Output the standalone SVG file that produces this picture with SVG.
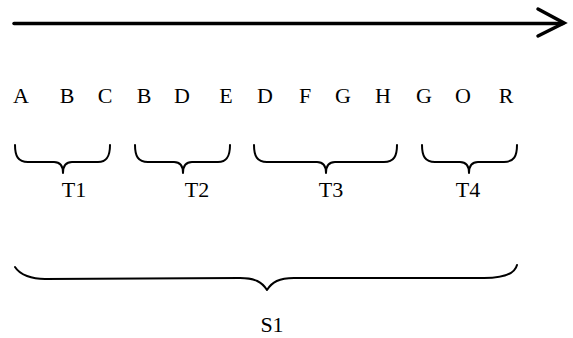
<svg xmlns="http://www.w3.org/2000/svg" width="573" height="338" viewBox="0 0 573 338">
<style>
text{font-family:"Liberation Serif","Times New Roman",serif;font-size:22px;fill:#000;text-anchor:middle}
.br{fill:none;stroke:#000;stroke-width:2;stroke-linecap:round;stroke-linejoin:round}
.ar{fill:none;stroke:#000;stroke-width:3.5;stroke-linecap:round;stroke-linejoin:miter}
</style>
<rect width="573" height="338" fill="#fff"/>
<g id="connectors">
<path class="ar" d="M14,23.5 L563,23.5"/>
<path class="ar" d="M538,9 L564,23 L538,36"/>
</g>
<g id="sequence">
<text x="21" y="103">A</text>
<text x="67" y="103">B</text>
<text x="105" y="103">C</text>
<text x="144" y="103">B</text>
<text x="182" y="103">D</text>
<text x="226" y="103">E</text>
<text x="265" y="103">D</text>
<text x="305" y="103">F</text>
<text x="343" y="103">G</text>
<text x="383" y="103">H</text>
<text x="424" y="103">G</text>
<text x="463" y="103">O</text>
<text x="506" y="103">R</text>
</g>
<g id="T1">
<path class="br" d="M15,145 C15,156 18,162 28,162 L54,162 C60,162 63,166 63,173 C63,166 66,162 72,162 L98,162 C107,162 110,156 110,145"/>
<text x="74" y="197">T1</text>
</g>
<g id="T2">
<path class="br" d="M135,145 C135,156 138,162 148,162 L174,162 C180,162 183,166 183,173 C183,166 186,162 192,162 L218,162 C227,162 230,156 230,145"/>
<text x="197" y="197">T2</text>
</g>
<g id="T3">
<path class="br" d="M254,145 C254,156 257,162 267,162 L317,162 C323,162 326,166 326,173 C326,166 329,162 335,162 L384,162 C394,162 397,156 397,145"/>
<text x="331" y="197">T3</text>
</g>
<g id="T4">
<path class="br" d="M422,145 C422,156 425,162 435,162 L460,162 C466,162 469,166 469,173 C469,166 472,162 478,162 L504,162 C514,162 517,156 517,145"/>
<text x="468" y="197">T4</text>
</g>
<g id="S1">
<path class="br" d="M15,267 C20,275 32,279 45,279 L240,278 C255,278 262,282 267,290 C272,282 279,278 294,278 L484,278 C505,278 515,273 517,265"/>
<text x="272" y="332">S1</text>
</g>
</svg>
